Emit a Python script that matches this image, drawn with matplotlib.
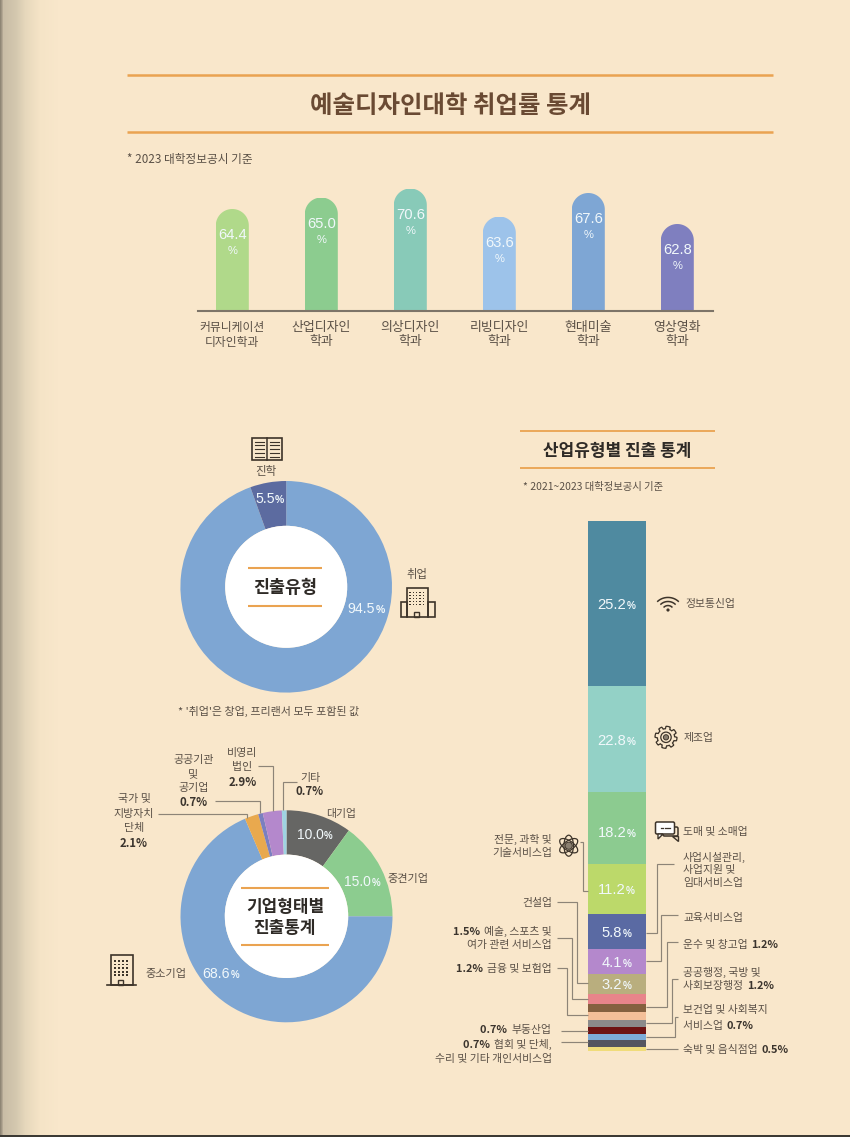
import numpy as np
import matplotlib
matplotlib.use("Agg")
import matplotlib.pyplot as plt
from matplotlib.path import Path
from matplotlib.patches import PathPatch, Rectangle, Circle, Ellipse, FancyBboxPatch, Polygon
from matplotlib.transforms import IdentityTransform

plt.rcParams['font.family'] = ['Noto Sans CJK KR', 'DejaVu Sans']

# ---------- data ----------
dept_labels = ['커뮤니케이션\n디자인학과', '산업디자인\n학과', '의상디자인\n학과',
               '리빙디자인\n학과', '현대미술\n학과', '영상영화\n학과']
dept_rates = [64.4, 65.0, 70.6, 63.6, 67.6, 62.8]

path_values = [5.5, 94.5]

firm_names = ['대기업', '중견기업', '중소기업', '국가 및 지방자치 단체', '공공기관 및 공기업', '비영리 법인', '기타']
firm_values = [10.0, 15.0, 68.6, 2.1, 0.7, 2.9, 0.7]

industry_names = ['정보통신업', '제조업', '도매 및 소매업', '전문, 과학 및 기술서비스업', '사업시설관리, 사업지원 및 임대서비스업',
                  '교육서비스업', '건설업', '예술, 스포츠 및 여가 관련 서비스업', '운수 및 창고업', '금융 및 보험업',
                  '공공행정, 국방 및 사회보장행정', '부동산업', '보건업 및 사회복지 서비스업', '협회 및 단체, 수리 및 기타 개인서비스업',
                  '숙박 및 음식점업']
industry_values = [25.2, 22.8, 18.2, 11.2, 5.8, 4.1, 3.2, 1.5, 1.2, 1.2, 1.2, 0.7, 0.7, 0.7, 0.5]

# ---------- styles ----------
W, H = 850, 1137
BG = '#f9e7cb'
ORANGE = '#eaa351'
TXT = '#5a5046'
DARK = '#3b342d'
LEAD = '#8d8477'
ICON = '#3d342a'
WHITE = '#f1f8fb'
NUMFONT = ['Liberation Sans', 'Noto Sans CJK KR']
dept_colors = ['#b0d98a', '#8ccc8f', '#88cab8', '#9dc3ea', '#7ea6d4', '#7f7fbf']
path_colors = ['#5c6ba0', '#7ea6d3']
firm_colors = ['#666664', '#8ccc8f', '#7ea6d3', '#e9a94e', '#7b7fc0', '#b488cc', '#9fd3e3']
stack_colors = ['#4f8aa0', '#93d1c6', '#8ccb90', '#bcd96a', '#5a6aa3', '#b488cc', '#b9ae7e', '#e8848a',
                '#85603f', '#f4bf98', '#8b8b8b', '#6e1414', '#7dacd8', '#55555f', '#f0dc7a']

fig = plt.figure(figsize=(W / 100, H / 100), dpi=100, facecolor=BG)


def px_axes(x0, y0, x1, y1, **kw):
    return fig.add_axes([x0 / W, 1 - y1 / H, (x1 - x0) / W, (y1 - y0) / H], **kw)


# background with page shading
bg = fig.add_axes([0, 0, 1, 1], zorder=0)
xs = np.arange(W)
stops_x = [0, 1.5, 3, 15, 25, 40, 58, 850]
stops_c = np.array([matplotlib.colors.to_rgb(c) for c in
                    ['#8f8675', '#a89d8a', '#c9bda6', '#d3c7ae', '#e6d8bc', '#f5e4c7', BG, BG]])
img = np.stack([np.interp(xs, stops_x, stops_c[:, i]) for i in range(3)], axis=-1)[None, :, :]
bg.imshow(img, extent=(0, W, H, 0), aspect='auto', interpolation='nearest')
bg.add_patch(Rectangle((0, 1135), W, 2, color='#3c3a34', lw=0))
bg.set_xlim(0, W)
bg.set_ylim(H, 0)
bg.axis('off')

top = fig.add_axes([0, 0, 1, 1], zorder=5)
top.set_xlim(0, W)
top.set_ylim(H, 0)
top.axis('off')

renderer = fig.canvas.get_renderer()


def T(x, yc, s, size=8.0, color=TXT, bold=False, ha='left'):
    return top.text(x, yc + 0.37 * size * 100 / 72, s, fontsize=size, color=color, ha=ha, va='baseline',
                    fontweight='bold' if bold else 'normal')


def rich(x, yc, parts, ha='left', family=None):
    """parts: (string, size, colour, bold); laid out on one baseline."""
    base = max(p[1] for p in parts)
    yb = yc + 0.37 * base * 100 / 72
    items = []
    total = 0
    for s, size, color, bold in parts:
        t = top.text(0, yb, s, fontsize=size, color=color, ha='left', va='baseline',
                     fontweight='bold' if bold else 'normal')
        if family:
            t.set_fontfamily(family)
        w = t.get_window_extent(renderer).width
        items.append((t, w + (1.5 if s.endswith(' ') else 0.5)))
        total += items[-1][1]
    cur = x if ha == 'left' else (x - total if ha == 'right' else x - total / 2)
    for t, adv in items:
        t.set_x(cur)
        cur += adv


def pct(x, yc, value, big=10.6, small=7.2, color=WHITE):
    rich(x, yc, [(f'{value:.1f}', big, color, False), ('%', small, color, True)], ha='center', family=NUMFONT)


def poly(pts, color=LEAD, lw=0.85):
    a = np.array(pts, float)
    top.plot(a[:, 0], a[:, 1], color=color, lw=lw, solid_capstyle='butt', solid_joinstyle='miter')


def rule(x0, x1, y, lw=1.8):
    top.plot([x0, x1], [y, y], color=ORANGE, lw=lw, solid_capstyle='butt')


# ---------- header ----------
rule(127, 773, 75)
rule(127, 773, 131.5)
T(450.5, 104, '예술디자인대학 취업률 통계', size=17.6, color='#6a4a33', bold=True, ha='center')
T(127, 158.5, '* 2023 대학정보공시 기준', size=8.4)

# ---------- rounded bars ----------
bar_ax = px_axes(198, 188.5, 712.5, 310.5, zorder=2)
bar_ax.patch.set_alpha(0)
knots_v = [0, 62.8, 63.6, 64.4, 65.0, 67.6, 70.6]
knots_h = [0, 86.5, 94, 101.5, 113, 117.5, 122]
bar_ax.set_yscale('function', functions=(lambda v: np.interp(v, knots_v, knots_h),
                                         lambda h: np.interp(h, knots_h, knots_v)))
x_pos = np.arange(len(dept_rates))
bars = bar_ax.bar(x_pos, dept_rates, width=33 / 89, color=dept_colors, lw=0)
bar_ax.set_xlim((198 - 232.3) / 89, (712.5 - 232.3) / 89)
bar_ax.set_ylim(0, max(dept_rates))
bar_ax.set_yticks([])
bar_ax.minorticks_off()
bar_ax.set_xticks(x_pos, dept_labels, fontsize=9.3, color=TXT, linespacing=1.12)
bar_ax.get_xticklabels()[0].set_fontsize(8.5)
bar_ax.get_xticklabels()[0].set_linespacing(1.22)
bar_ax.tick_params(axis='x', length=0, pad=7.4)
for s in ['top', 'left', 'right']:
    bar_ax.spines[s].set_visible(False)
bar_ax.spines['bottom'].set_color('#7d7468')
bar_ax.spines['bottom'].set_linewidth(1.5)
for b, v, xp in zip(bars, dept_rates, x_pos):
    e = b.get_window_extent(renderer)
    r = e.width / 2
    ang = np.linspace(np.pi, 0, 40)
    cx = (e.x0 + e.x1) / 2
    pts = [(e.x0, e.y0 - 2)] + [(cx + r * np.cos(a), e.y1 - r + r * np.sin(a)) for a in ang] + [(e.x1, e.y0 - 2), (e.x0, e.y0 - 2)]
    b.set_clip_path(Path(pts), IdentityTransform())
    bar_ax.annotate(f'{v:.1f}', (xp, v), xytext=(0, -26 * 0.72), textcoords='offset points', ha='center', va='center',
                    fontsize=10.6, color=WHITE, annotation_clip=False, family=NUMFONT)
    bar_ax.annotate('%', (xp, v), xytext=(0, -42 * 0.72), textcoords='offset points', ha='center', va='center',
                    fontsize=8, color=WHITE, annotation_clip=False, family=NUMFONT)


# ---------- donuts ----------
def donut(cx, cy, r, r_in, values, colors):
    ax = px_axes(cx - r, cy - r, cx + r, cy + r, zorder=2)
    ax.pie(values, colors=colors, startangle=90, counterclock=False, radius=1,
           wedgeprops=dict(width=1 - r_in / r, linewidth=0))
    ax.set_xlim(-1, 1)
    ax.set_ylim(-1, 1)
    ax.axis('off')
    top.add_patch(Circle((cx, cy), r_in, color='white', lw=0, zorder=1))


# 5.5 % lies just left of 12 o'clock, so the clockwise order is 94.5 then 5.5
donut(286.2, 586.8, 105.8, 61, path_values[::-1], path_colors[::-1])
rule(248.3, 322.3, 568.3, lw=1.5)
rule(248.3, 322.3, 605.7, lw=1.5)
T(285.5, 587, '진출유형', size=12.5, color='#2e2a26', bold=True, ha='center')
T(266, 471, '진학', size=8.3, ha='center')
T(417, 574, '취업', size=8.2, ha='center')
pct(270, 498, path_values[0], big=10.2, small=7.5)
pct(366.7, 607.7, path_values[1], big=10.2, small=7.5)
T(269, 711, "* '취업'은 창업, 프리랜서 모두 포함된 값", size=7.95, ha='center')

donut(286.5, 916.3, 106, 61.7, firm_values, firm_colors)
rule(240.7, 328.7, 888, lw=1.5)
rule(240.7, 328.7, 944.7, lw=1.5)
T(285, 905.7, '기업형태별', size=12.2, color='#2e2a26', bold=True, ha='center')
T(285, 926.7, '진출통계', size=12.2, color='#2e2a26', bold=True, ha='center')
pct(315, 834, firm_values[0], big=10, small=7)
pct(362.3, 881, firm_values[1], big=10, small=7)
pct(221, 972.3, firm_values[2], big=10.2, small=7)
T(340.7, 812.7, '대기업', size=7.8, ha='center')
T(408.3, 878.3, '중견기업', size=8, ha='center')
T(166, 972.7, '중소기업', size=8, ha='center')
for y, s in zip([798.3, 813.3, 826.7], ['국가 및', '지방자치', '단체']):
    T(134, y, s, size=7.9, ha='center')
T(134, 842.3, f'{firm_values[3]}%', size=8.2, color=DARK, bold=True, ha='center')
for y, s in zip([759, 772.7, 786.7], ['공공기관', '및', '공기업']):
    T(193.3, y, s, size=7.9, ha='center')
T(193.3, 801.7, f'{firm_values[4]}%', size=8.2, color=DARK, bold=True, ha='center')
for y, s in zip([751.7, 766], ['비영리', '법인']):
    T(242.3, y, s, size=7.9, ha='center')
T(242.3, 781.7, f'{firm_values[5]}%', size=8.2, color=DARK, bold=True, ha='center')
T(310, 776.7, '기타', size=7.9, ha='center')
T(310, 791, f'{firm_values[6]}%', size=8.2, color=DARK, bold=True, ha='center')
poly([(158.3, 814.3), (246.7, 814.3), (246.7, 818.3)])
poly([(215, 800.7), (260, 800.7), (260, 813.3)])
poly([(258.3, 766), (272.7, 766), (272.7, 811)])
poly([(296.7, 782.3), (283.3, 782.3), (283.3, 810)])

# ---------- stacked column ----------
rule(520, 715.3, 431, lw=1.3)
rule(520, 715.3, 468.3, lw=1.3)
T(617.5, 450, '산업유형별 진출 통계', size=12.2, color='#2e2a26', bold=True, ha='center')
T(523.5, 485.7, '* 2021~2023 대학정보공시 기준', size=7.45)

stack_ax = px_axes(587.5, 520.5, 646, 1051, zorder=2)
cum = np.concatenate([[0], np.cumsum(industry_values)])
stack_px = [0, 165.5, 271.8, 343.5, 393.5, 428.5, 453.5, 473.2, 483.2, 491.2, 499.5, 506.8, 513.8, 519.8, 526.2, 530.5]
stack_ax.set_yscale('function', functions=(lambda v: np.interp(v, cum, stack_px),
                                           lambda p: np.interp(p, stack_px, cum)))
stack_ax.bar([0.5] * len(industry_values), industry_values, bottom=cum[:-1], width=1, color=stack_colors, lw=0)
stack_ax.set_xlim(0, 1)
stack_ax.set_ylim(cum[-1], 0)
stack_ax.axis('off')
for i in range(7):
    y_disp = stack_ax.transData.transform((0.5, (cum[i] + cum[i + 1]) / 2))
    px = top.transData.inverted().transform(y_disp)
    pct(px[0], px[1] + (3 if i == 2 else 0), industry_values[i])

S = 7.8
B = 7.9
reg = lambda s: (s, S, TXT, False)
bld = lambda s: (s, B, DARK, True)
T(685.7, 602.7, industry_names[0], size=S)
T(683.3, 737.3, industry_names[1], size=S)
T(683.3, 831, industry_names[2], size=S)
for y, s in zip([856.7, 869.3, 882.3], ['사업시설관리,', '사업지원 및', '임대서비스업']):
    T(683, y, s, size=S)
T(683, 916.7, industry_names[5], size=S)
rich(683, 944, [reg('운수 및 창고업 '), bld(f'{industry_values[8]}%')])
T(683, 972.3, '공공행정, 국방 및', size=S)
rich(683, 985, [reg('사회보장행정 '), bld(f'{industry_values[10]}%')])
T(683, 1009.3, '보건업 및 사회복지', size=S)
rich(683, 1025, [reg('서비스업 '), bld(f'{industry_values[12]}%')])
rich(683, 1049.3, [reg('숙박 및 음식점업 '), bld(f'{industry_values[14]}%')])

T(552, 839.3, '전문, 과학 및', size=S, ha='right')
T(552, 852, '기술서비스업', size=S, ha='right')
T(552, 901.7, industry_names[6], size=S, ha='right')
rich(552, 931, [bld(f'{industry_values[7]}% '), reg('예술, 스포츠 및')], ha='right')
T(552, 944.3, '여가 관련 서비스업', size=S, ha='right')
rich(552, 968.3, [bld(f'{industry_values[9]}% '), reg('금융 및 보험업')], ha='right')
rich(552, 1028.7, [bld(f'{industry_values[11]}% '), reg('부동산업')], ha='right')
rich(552, 1044.3, [bld(f'{industry_values[13]}% '), reg('협회 및 단체,')], ha='right')
T(552, 1057.7, '수리 및 기타 개인서비스업', size=S, ha='right')

poly([(580, 842.3), (582.7, 842.3), (582.7, 890.7), (588, 890.7)])
poly([(556.7, 901.7), (576.7, 901.7), (576.7, 983.3), (587.7, 983.3)])
poly([(556.7, 938.3), (571.7, 938.3), (571.7, 999), (587.7, 999)])
poly([(556.7, 968.3), (566.7, 968.3), (566.7, 1015), (587.7, 1015)])
poly([(561, 1031), (587.7, 1031)])
poly([(561, 1042.3), (587.7, 1042.3)])
poly([(674, 864), (657.3, 864), (657.3, 933.3), (646, 933.3)])
poly([(678.3, 915), (660.7, 915), (660.7, 960.7), (646, 960.7)])
poly([(678.3, 942.3), (666.7, 942.3), (666.7, 1007.3), (646, 1007.3)])
poly([(678.3, 979), (672.3, 979), (672.3, 1023.3), (646, 1023.3)])
poly([(678.3, 1017.3), (675, 1017.3), (675, 1037.3), (646, 1037.3)])
poly([(678.3, 1049.3), (646, 1049.3)])


# ---------- icons ----------
def box(x0, y0, x1, y1, lw=1.0, fc='none', ec=ICON):
    top.add_patch(Rectangle((x0, y0), x1 - x0, y1 - y0, fc=fc, ec=ec, lw=lw))


def book(x0, y0, x1, y1):
    box(x0, y0, x1, y1, lw=1.2)
    mid = (x0 + x1) / 2
    top.plot([mid, mid], [y0, y1], color=ICON, lw=1.1)
    for k in range(5):
        yy = y0 + 3.5 + k * (y1 - y0 - 7) / 4
        top.plot([x0 + 3, mid - 3], [yy, yy], color=ICON, lw=0.8)
        top.plot([mid + 3, x1 - 3], [yy, yy], color=ICON, lw=0.8)


def windows(x0, y0, nx, ny, dx, dy, s=1.2):
    for i in range(nx):
        for j in range(ny):
            top.add_patch(Rectangle((x0 + i * dx, y0 + j * dy), s, s, fc=ICON, lw=0))


book(251.7, 438, 281.7, 460)
# company building
box(406.7, 588, 427.7, 616.7, lw=1.2)
box(400.7, 601.7, 406.7, 616.7, lw=1.2)
box(427.7, 601.7, 435, 616.7, lw=1.2)
windows(409.5, 591.5, 5, 5, 3.3, 3)
box(414.5, 611.5, 419.5, 616.7, lw=1.0)
# small firm building
box(110.7, 955, 132.7, 985, lw=1.2)
top.plot([106.7, 136], [985, 985], color=ICON, lw=1.2)
windows(114.5, 960, 4, 5, 4, 3.6, s=1.7)
box(118.5, 980, 123.5, 985, lw=1.0)
# wifi
cxw, cyw = 668, 610
for rad in [5.5, 10, 14.5]:
    a = np.radians(np.linspace(45, 135, 30))
    top.plot(cxw + rad * np.cos(a), cyw - 0.9 * rad * np.sin(a) + 0.5, color=ICON, lw=1.1)
top.add_patch(Circle((cxw, cyw), 1.6, fc=ICON, lw=0))
# gear
gx, gy = 666, 737.3
t = np.linspace(0, 2 * np.pi, 96, endpoint=False)
rg = np.where(np.mod(t * 8 / (2 * np.pi), 1) < 0.5, 11, 8.6)
top.add_patch(Polygon(np.c_[gx + rg * np.cos(t), gy + rg * np.sin(t)], closed=True, fc='none', ec=ICON, lw=0.9))
top.add_patch(Circle((gx, gy), 5.2, fc='none', ec=ICON, lw=0.9))
top.add_patch(Circle((gx, gy), 2.6, fc='#8a7f70', ec=ICON, lw=0.7))
# chat bubbles
top.add_patch(FancyBboxPatch((663, 827), 15, 9, boxstyle='round,pad=0,rounding_size=1.5', fc=BG, ec=ICON, lw=1.1))
top.add_patch(Polygon([(672, 836), (678, 836), (678, 841)], closed=True, fc=BG, ec=ICON, lw=1.0))
top.add_patch(FancyBboxPatch((655.5, 822), 19, 12, boxstyle='round,pad=0,rounding_size=1.5', fc='white', ec=ICON, lw=1.1))
top.add_patch(Polygon([(658, 834), (663, 834), (658, 839)], closed=True, fc='white', ec=ICON, lw=1.0))
for dx in [661.5, 665, 668.5]:
    top.plot([dx, dx + 1.8], [828, 828], color=ICON, lw=0.9)
# atom
ax0, ay0 = 568.7, 845.7
for ang in [35, -35, 90]:
    top.add_patch(Ellipse((ax0, ay0), 21, 9.5, angle=ang, fc='none', ec=ICON, lw=0.9))
top.add_patch(Circle((ax0, ay0), 3.6, fc='#8a7f70', ec=ICON, lw=0.7))

fig.savefig('out.png', dpi=100, facecolor=BG)
